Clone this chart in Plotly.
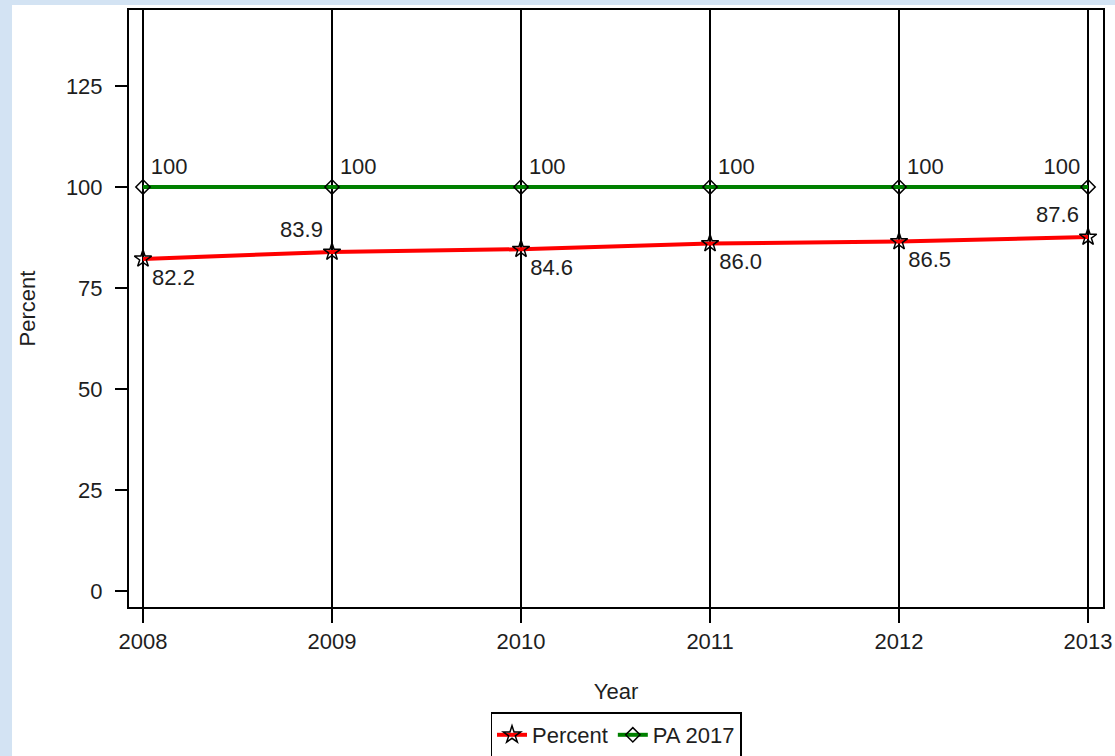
import plotly.graph_objects as go

years = [2008, 2009, 2010, 2011, 2012, 2013]
percent = [82.2, 83.9, 84.6, 86.0, 86.5, 87.6]
percent_labels = ["82.2", "83.9", "84.6", "86.0", "86.5", "87.6"]
pa2017 = [100, 100, 100, 100, 100, 100]
pa_labels = ["100", "100", "100", "100", "100", "100"]
y_ticks = [0, 25, 50, 75, 100, 125]

percent_pos = ["bottom right", "top left", "bottom right", "bottom right", "bottom right", "top left"]
pa_pos = ["top right", "top right", "top right", "top right", "top right", "top left"]

FONT = "Liberation Sans, Arial, sans-serif"
FS = 22
TXT = "#1e1e1e"

fig = go.Figure()
fig.add_trace(go.Scatter(
    x=years, y=percent, name="Percent", mode="lines+markers+text",
    line=dict(color="#ff0000", width=4),
    marker=dict(symbol="star-open", size=13, color="black", line=dict(width=1.5, color="black")),
    text=percent_labels, textposition=percent_pos,
    textfont=dict(family=FONT, size=FS, color=TXT),
))
fig.add_trace(go.Scatter(
    x=years, y=pa2017, name="PA 2017", mode="lines+markers+text",
    line=dict(color="#008000", width=4),
    marker=dict(symbol="diamond-open", size=11, color="black", line=dict(width=1.5, color="black")),
    text=pa_labels, textposition=pa_pos,
    textfont=dict(family=FONT, size=FS, color=TXT),
))

fig.add_shape(type="rect", xref="paper", yref="paper",
              x0=-0.1201, x1=1.02, y0=-0.26, y1=1.0084,
              fillcolor="white", line=dict(width=0), layer="below")

fig.update_layout(
    width=1115, height=756,
    margin=dict(l=129, r=12, t=10, b=149, autoexpand=False),
    paper_bgcolor="#d3e3f3",
    plot_bgcolor="white",
    font=dict(family=FONT, size=FS, color=TXT),
    showlegend=True,
    legend=dict(orientation="h", x=0.5, xanchor="center", y=-0.2144, yanchor="middle",
                bordercolor="black", borderwidth=1.5, bgcolor="white",
                font=dict(family=FONT, size=22, color=TXT),
                tracegroupgap=0, itemsizing="trace"),
)
fig.update_xaxes(
    range=[2007.926, 2013.079], tickvals=years, ticktext=[str(y) for y in years],
    showgrid=True, gridcolor="black", gridwidth=1.5,
    showline=True, linecolor="black", linewidth=2, mirror=True,
    ticks="outside", ticklen=14, tickwidth=1.5, tickcolor="black",
    zeroline=False, automargin=False,
    title=dict(text="Year", standoff=30, font=dict(family=FONT, size=FS)),
)
fig.update_yaxes(
    range=[-3.96, 143.8], tickvals=y_ticks,
    showgrid=False,
    showline=True, linecolor="black", linewidth=2, mirror=True,
    ticks="outside", ticklen=12, tickwidth=1.5, tickcolor="black",
    ticklabelstandoff=8,
    zeroline=False, automargin=False,
    title=dict(text="Percent", standoff=24, font=dict(family=FONT, size=FS)),
)

fig.write_html("out.html", config={"displayModeBar": False},
               post_script="document.body.style.margin='0';document.body.style.overflow='hidden';")
